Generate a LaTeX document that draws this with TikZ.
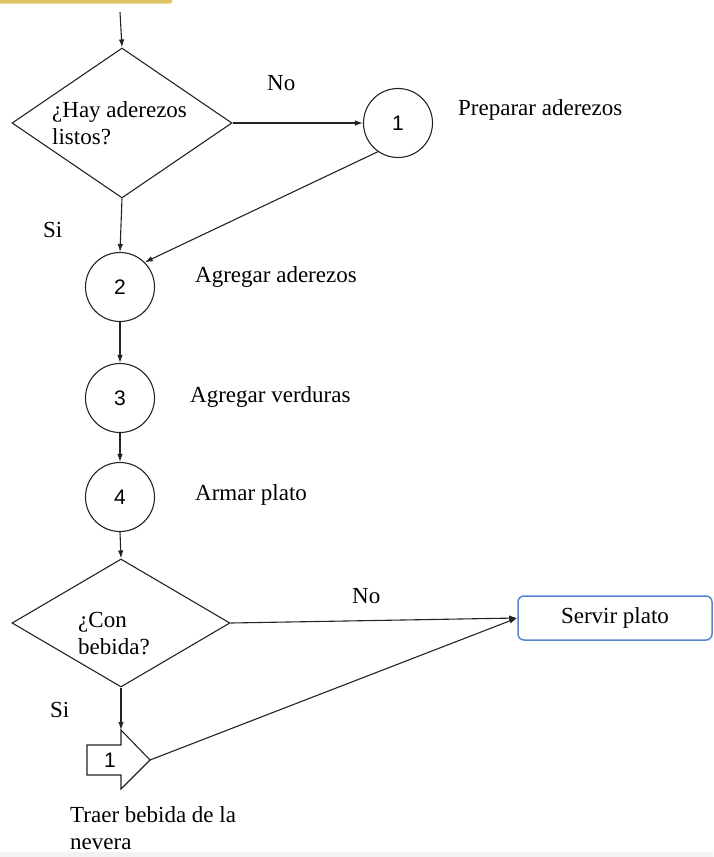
\documentclass[tikz,border=0pt]{standalone}
\usepackage{fontspec}
\setmainfont{Liberation Serif}
\newfontfamily\numfont{Liberation Sans}
\usetikzlibrary{shapes.geometric,arrows.meta}

\definecolor{inkline}{RGB}{35,35,35}
\definecolor{servblue}{RGB}{86,134,208}
\definecolor{topbar}{RGB}{224,196,100}
\definecolor{bottomband}{RGB}{242,242,242}

\newcommand{\txtfont}{\fontsize{23}{27}\selectfont}
\newcommand{\digfont}{\numfont\fontsize{21}{24}\selectfont}

\begin{document}
\begin{tikzpicture}[x=1pt,y=1pt,yscale=-1,xscale=1,
	line/.style={draw=inkline,line width=1.1pt},
	flow/.style={line,-{Latex[length=8pt,width=5.5pt]}},
	decision/.style={line,diamond,inner sep=0pt},
	stepnode/.style={line,circle,minimum size=69pt,inner sep=0pt,font=\digfont},
	lbl/.style={anchor=base west,inner sep=0pt,font=\txtfont},
	lbltwo/.style={anchor=north west,inner sep=0pt,align=left,font=\txtfont}]
				\useasboundingbox (0,0) rectangle (713,857);

				%Shape: Rectangle [top bar, cut off]
				\fill [topbar, rounded corners=1.5pt] (-4,-4) rectangle (172,3.5);
				%Shape: Rectangle [bottom band]
				\fill [bottomband] (0,852) rectangle (713,857);

				%Shape: Diamond [first question]
				\node [decision, minimum width=220pt, minimum height=150pt] (d1) at (122,123) {};
				%Shape: Circle
				\node [stepnode] (c1) at (398,123) {1};
				\node [stepnode] (c2) at (120,287) {2};
				\node [stepnode] (c3) at (120,398) {3};
				\node [stepnode] (c4) at (120,497) {4};
				%Shape: Diamond [second question]
				\node [decision, minimum width=218pt, minimum height=128pt] (d2) at (121,623) {};
				%Shape: Rounded Rect
				\node [draw=servblue, line width=1.5pt, rounded corners=6pt, minimum width=194pt, minimum height=44pt, inner sep=0pt, font=\txtfont] (serve) at (615,618) {Servir plato};

				%Shape: Off-page connector
				\draw [line] (87,745) -- (121,745) -- (121,730) -- (150,760) -- (121,789) -- (121,775) -- (87,775) -- cycle;
				\coordinate (contop) at (121,730);
				\coordinate (contip) at (150,760);
				\node [inner sep=0pt, font=\digfont] (con) at (110,760) {1};

				\coordinate (start) at (120,12);

				%Straight Lines
				\draw [flow] (start) -- (d1.north);
				\draw [flow] (d1.east) -- (c1.west);
				\draw [flow] (c1.235) -- (c2.45);
				\draw [flow] (d1.south) -- (c2.north);
				\draw [flow] (c2) -- (c3);
				\draw [flow] (c3) -- (c4);
				\draw [flow] (c4.south) -- (d2.north);
				\draw [flow] (d2.east) -- (serve.west);
				\draw [flow] (d2.south) -- (contop);
				\draw [flow] (contip) -- (serve.west);

				% Text Node
				\node [lbltwo] (q1) at (52,101.3) {¿Hay aderezos\\listos?};
				% Text Node
				\node [lbltwo] (q2) at (78,612.3) {¿Con\\bebida?};
				% Text Node
				\node [lbl] (no1) at (267,90) {No};
				% Text Node
				\node [lbl] (si1) at (43,237) {Si};
				% Text Node
				\node [lbl] (t1) at (458,115) {Preparar aderezos};
				% Text Node
				\node [lbl] (t2) at (195,282) {Agregar aderezos};
				% Text Node
				\node [lbl] (t3) at (190,402) {Agregar verduras};
				% Text Node
				\node [lbl] (t4) at (195,500) {Armar plato};
				% Text Node
				\node [lbl] (no2) at (352,603) {No};
				% Text Node
				\node [lbl] (si2) at (50,717) {Si};
				% Text Node
				\node [lbltwo] (tb) at (70,806.3) {Traer bebida de la\\nevera};

\end{tikzpicture}
\end{document}
